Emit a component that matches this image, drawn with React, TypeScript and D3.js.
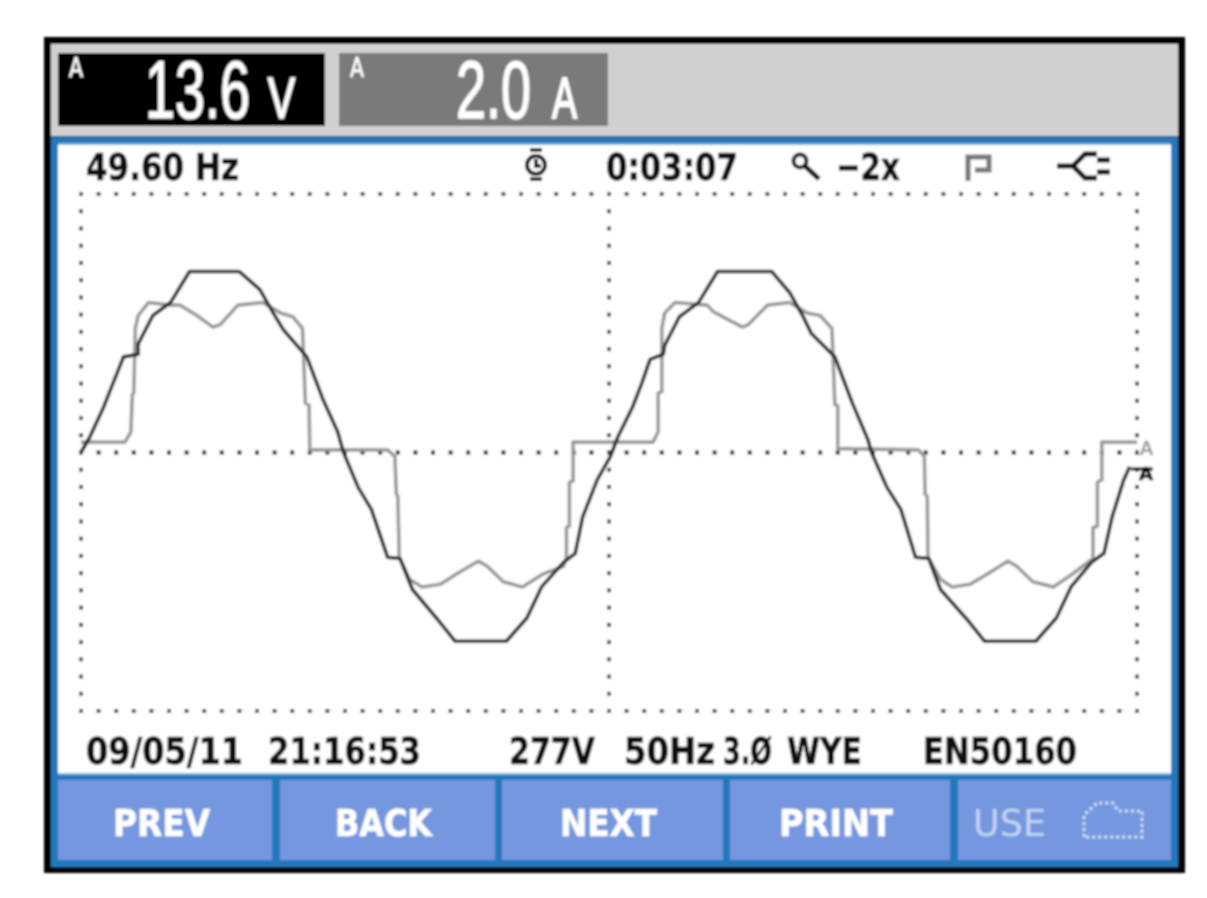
import React from 'react';
import * as d3 from 'd3';

// phase in degrees over the two cycles on screen, level in % of half screen
const voltPhase = [0, 6, 15, 22, 29, 39, 39, 49, 61, 74, 108, 122, 131, 138, 154, 165, 175, 179, 189, 198, 209, 217.5, 226, 243, 255, 290, 304, 314, 329, 337, 342, 352, 361,
  366, 376, 382.5, 388, 397, 398, 408, 421, 434, 471, 483, 492, 498, 514, 526, 536.5, 539, 549.5, 559, 569, 578, 586, 604, 616, 651, 665, 675, 689, 697.5, 703, 711, 715];
const voltLevel = [0, 6, 17, 27, 37, 38, 42, 53, 58, 70, 70, 63, 54, 47.5, 37, 20.5, 8, 0, -13.5, -22, -40.5, -41, -53, -64.5, -73, -73, -64, -52, -42.5, -39, -25, -10.5, -1.5,
  6, 17.5, 27, 36, 38, 41.5, 52.5, 58, 70, 70, 62, 53, 46, 37, 19, 5, 0, -13.5, -22, -40.5, -41, -53, -64.5, -73, -73, -64, -52, -42.5, -39, -25, -10.5, -5.5];

const ampPhase = [0, 30, 34, 35, 36, 37, 39, 46, 61, 67.5, 79, 90, 95, 107, 124, 136, 144.5, 151, 153, 155.5, 156, 209, 214, 215, 216, 217, 224, 232.5, 245, 256, 271, 277, 288, 301, 315, 329, 331, 331, 333, 333, 335.5, 335.5,
  390, 393.5, 393.5, 396, 396, 398, 405, 427, 431, 451, 455, 468, 483, 495, 504, 512, 514, 516, 516, 571, 575, 575.5, 577, 577.5, 586, 594, 606, 618, 632, 638, 649, 663, 676, 690, 690, 693, 693, 696, 696, 720];
const ampLevel = [4, 4, 8, 22.5, 23, 48, 53, 58, 57, 57, 53, 48.5, 49.5, 57, 58, 54, 52.5, 48, 19, 18.5, 1, 1, -1.5, -16, -17, -40.5, -49, -52, -51, -47, -42, -44, -50, -52, -47, -44, -40.5, -29, -28.5, -11.5, -11, 4,
  4, 8, 23, 23.5, 48, 54, 58, 57, 54.5, 48.5, 49.5, 57, 58, 54, 53, 48, 18.5, 18, 1.5, 1, -1.5, -16, -17, -40.5, -49, -52, -51, -47, -42, -44, -50, -52, -47, -41, -29, -28.5, -11.5, -10.5, 4, 4];

const softKeys = ['PREV', 'BACK', 'NEXT', 'PRINT'];
const softKeySpans = [[58, 272], [280, 495], [502, 723], [730, 950], [958, 1171]];
const softKeyText = [[113, 210], [335, 432], [560, 657], [779, 893]];

const x = d3.scaleLinear().domain([0, 720]).range([81, 1137]);
const y = d3.scaleLinear().domain([-100, 100]).range([711, 194]);

const toPoints = (xs: number[], ys: number[]) => xs.map((d, i) => [d, ys[i]] as [number, number]);
const line = d3.line<[number, number]>().x(d => x(d[0])).y(d => y(d[1])).curve(d3.curveLinear);

const gridX = d3.range(0, 61).map(i => i * 12);
const gridY = d3.range(0, 31).map(i => -100 + (i * 200) / 30);

const BLUE = '#2477bd';
const KEY = '#7597df';
const INK = '#111';
const BOLD = '"DejaVu Sans", sans-serif';
const THIN = '"Liberation Sans", sans-serif';

// fits text in a box, stretched up to the tall screen font
const Label = ({ x0, x1, base, size = 30, tall = 1.27, text, fill = INK, weight = 700, family = BOLD, heavy = 0.5 }: any) => (
  <text transform={`translate(${x0},${base}) scale(1,${tall})`} fontSize={size} fontFamily={family} fontWeight={weight} fill={fill}
    stroke={heavy ? fill : 'none'} strokeWidth={heavy} textLength={x1 - x0} lengthAdjust="spacingAndGlyphs">{text}</text>
);

export default function App() {
  return (
    <svg width={1207} height={898} style={{ position: 'fixed', left: 0, top: 0, background: '#fff' }}>
      <defs>
        <filter id="soft" x="-2%" y="-2%" width="104%" height="104%">
          <feGaussianBlur stdDeviation="0.9" />
        </filter>
      </defs>
      <g filter="url(#soft)">
        <rect x={44} y={37} width={1141} height={836} fill="#000" />
        <rect x={51} y={44} width={1127} height={92} fill="#d0d0d0" />
        <rect x={51} y={137} width={1127} height={730} fill={BLUE} />
        <rect x={58} y={143} width={1113} height={632} fill="#7db3dc" />
        <rect x={58} y={145} width={1113} height={628} fill="#fff" />

        {/* readouts */}
        <rect x={58} y={53} width={267} height={73} fill="#000" />
        <rect x={339} y={53} width={269} height={73} fill="#7a7a7a" />
        <Label x0={69} x1={83} base={77} size={20} tall={1.37} text="A" fill="#fff" weight={400} />
        <Label x0={350} x1={364} base={77} size={20} tall={1.37} text="A" fill="#fff" weight={400} />
        <Label x0={145} x1={250} base={118} size={56} tall={1.45} text="13.6" fill="#fff" weight={400} family={THIN} heavy={0.8} />
        <Label x0={268} x1={295} base={118} size={40} tall={1.42} text="V" fill="#fff" weight={400} family={THIN} heavy={1.2} />
        <Label x0={456} x1={531} base={118} size={44} tall={1.85} text="2.0" fill="#fff" weight={400} family={THIN} heavy={0.8} />
        <Label x0={552} x1={577} base={118} size={36} tall={1.58} text="A" fill="#fff" weight={400} family={THIN} heavy={1.2} />

        {/* status line */}
        <Label x0={86} x1={239} base={180} text="49.60 Hz" />
        <Label x0={606} x1={738} base={180} text="0:03:07" />
        <Label x0={836} x1={900} base={180} text="−2x" />
        <circle cx={536} cy={165} r={9} fill="none" stroke={INK} strokeWidth={4} />
        <path d="M530 150H542M530 179H542M536 159V166H541" fill="none" stroke={INK} strokeWidth={4} />
        <circle cx={800} cy={161} r={6.5} fill="none" stroke={INK} strokeWidth={4} />
        <path d="M805 166L819 179" stroke={INK} strokeWidth={5} />
        <path d="M968 181V157H989V170H975" fill="none" stroke="#777" strokeWidth={5} />
        <path d="M1057 166H1073M1097 154H1085L1073 166L1085 178H1097M1097 160H1110M1097 172H1110" fill="none" stroke={INK} strokeWidth={5} />

        {/* graticule */}
        <g fill="#444">
          {gridX.map(d => <rect key={'t' + d} x={x(d) - 2} y={y(100) - 2} width={4} height={4} />)}
          {gridX.map(d => <rect key={'b' + d} x={x(d) - 2} y={y(-100) - 2} width={4} height={4} />)}
          {gridX.map(d => <rect key={'m' + d} x={x(d) - 2} y={y(0) - 2} width={4} height={4} fill="#111" />)}
          {gridY.map(d => <rect key={'l' + d} x={x(0) - 2} y={y(d) - 2} width={4} height={4} />)}
          {gridY.map(d => <rect key={'c' + d} x={x(360) - 2} y={y(d) - 2} width={4} height={4} />)}
          {gridY.map(d => <rect key={'r' + d} x={x(720) - 2} y={y(d) - 2} width={4} height={4} />)}
        </g>

        {/* traces */}
        <path d={line(toPoints(ampPhase, ampLevel)) as string} fill="none" stroke="#999" strokeWidth={3.6} strokeLinejoin="round" />
        <path d={line(toPoints(voltPhase, voltLevel)) as string} fill="none" stroke="#222" strokeWidth={3.6} strokeLinejoin="round" />

        {/* trace ends */}
        <Label x0={1140} x1={1153} base={455} size={13} tall={1.45} text="A" fill="#999" weight={400} />
        <Label x0={1139} x1={1153} base={480} size={12} tall={1.45} text="A" fill="#000" />
        <path d="M1131 469H1153" stroke="#000" strokeWidth={3} />

        {/* footer */}
        <Label x0={86} x1={243} base={764} text="09/05/11" />
        <Label x0={268} x1={421} base={764} text="21:16:53" />
        <Label x0={509} x1={595} base={764} text="277V" />
        <Label x0={624} x1={715} base={764} text="50Hz" />
        <Label x0={723} x1={772} base={764} text="3.Ø" />
        <Label x0={787} x1={862} base={764} text="WYE" />
        <Label x0={923} x1={1077} base={764} text="EN50160" />

        {/* soft keys */}
        {softKeySpans.map(([a, b]) => <rect key={a} x={a} y={780} width={b - a} height={80} fill={KEY} />)}
        {softKeys.map((k, i) => (
          <Label key={k} x0={softKeyText[i][0]} x1={softKeyText[i][1]} base={836} text={k} fill="#fff" />
        ))}
        <Label x0={973} x1={1046} base={836} text="USE" fill="#c4d3f2" weight={400} heavy={0} />
        <path d="M1084 837V815L1097 803H1113L1118 811H1142V837Z" fill="none" stroke="#d5e0f6" strokeWidth={3} strokeDasharray="3 3" />
      </g>
    </svg>
  );
}
